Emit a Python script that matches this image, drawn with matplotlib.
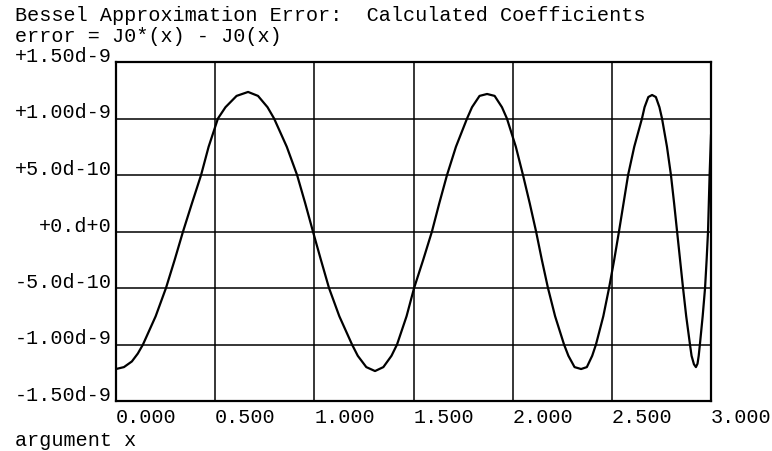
import matplotlib
matplotlib.use("Agg")
import matplotlib.pyplot as plt
import numpy as np

# error curve, y in units of 1e-9
arg_x = [0.000, 0.040, 0.080, 0.110, 0.136, 0.200, 0.252, 0.296, 0.338, 0.383,
         0.429, 0.467, 0.514, 0.552, 0.608, 0.666, 0.716, 0.764, 0.797, 0.861,
         0.913, 0.954, 0.993, 1.033, 1.074, 1.126, 1.190, 1.219, 1.262, 1.306,
         1.348, 1.389, 1.417, 1.465, 1.503, 1.549, 1.593, 1.630, 1.669, 1.714,
         1.770, 1.795, 1.833, 1.871, 1.909, 1.946, 1.971, 2.016, 2.052, 2.086,
         2.118, 2.147, 2.178, 2.214, 2.259, 2.281, 2.312, 2.345, 2.374, 2.401,
         2.420, 2.457, 2.486, 2.512, 2.536, 2.559, 2.582, 2.613, 2.652, 2.665,
         2.684, 2.703, 2.722, 2.740, 2.753, 2.778, 2.798, 2.814, 2.829, 2.844,
         2.859, 2.875, 2.894, 2.902, 2.914, 2.924, 2.932, 2.938, 2.944, 2.958,
         2.970, 2.978, 2.985, 2.993, 3.000]
err_e9 = [-1.217, -1.200, -1.150, -1.080, -1.000, -0.750, -0.500, -0.250, 0.000, 0.250,
          0.500, 0.750, 1.000, 1.100, 1.200, 1.235, 1.200, 1.100, 1.000, 0.750,
          0.500, 0.250, 0.000, -0.250, -0.500, -0.750, -1.000, -1.100, -1.200, -1.235,
          -1.200, -1.100, -1.000, -0.750, -0.500, -0.250, 0.000, 0.250, 0.500, 0.750,
          1.000, 1.100, 1.200, 1.217, 1.200, 1.100, 1.000, 0.750, 0.500, 0.250,
          0.000, -0.250, -0.500, -0.750, -1.000, -1.100, -1.200, -1.217, -1.200, -1.100,
          -1.000, -0.750, -0.500, -0.250, 0.000, 0.250, 0.500, 0.750, 1.000, 1.100,
          1.190, 1.208, 1.190, 1.100, 1.000, 0.750, 0.500, 0.250, 0.000, -0.250,
          -0.500, -0.750, -1.000, -1.100, -1.175, -1.200, -1.170, -1.100, -1.000, -0.750,
          -0.500, -0.250, 0.000, 0.500, 0.850]

x_ticks = [0.0, 0.5, 1.0, 1.5, 2.0, 2.5, 3.0]
x_labels = ["0.000", "0.500", "1.000", "1.500", "2.000", "2.500", "3.000"]
y_ticks = [1.5e-9, 1.0e-9, 5.0e-10, 0.0, -5.0e-10, -1.0e-9, -1.5e-9]
y_labels = ["+1.50d-9", "+1.00d-9", "+5.0d-10", "+0.d+0", "-5.0d-10", "-1.00d-9", "-1.50d-9"]

title1 = "Bessel Approximation Error:  Calculated Coefficients"
title2 = "error = J0*(x) - J0(x)"
xlab = "argument x"

plt.rcParams['font.family'] = ['Liberation Mono', 'DejaVu Sans Mono']
fs = 14.5

fig = plt.figure(figsize=(7.72, 4.51), dpi=100)
ax = fig.add_axes([116 / 772, 1 - 401 / 451, 595 / 772, 339 / 451])

ax.plot(arg_x, np.array(err_e9) * 1e-9, color="black", lw=1.6)

ax.set_xlim(0, 3.0)
ax.set_ylim(-1.5e-9, 1.5e-9)
ax.set_xticks(x_ticks)
ax.set_xticklabels(x_labels, fontsize=fs, ha="left")
ax.set_yticks(y_ticks)
ax.set_yticklabels(y_labels, fontsize=fs)
for lab in ax.get_yticklabels():
    lab.set_va("baseline")
ax.tick_params(axis="x", length=0, pad=5)
ax.tick_params(axis="y", length=0, pad=3)
ax.grid(True, color="black", lw=1.1)
for s in ax.spines.values():
    s.set_linewidth(1.6)

fig.text(15 / 772, 1 - 21 / 451, title1, fontsize=fs, va="baseline")
fig.text(15 / 772, 1 - 42 / 451, title2, fontsize=fs, va="baseline")
fig.text(15 / 772, 1 - 446 / 451, xlab, fontsize=fs, va="baseline")

fig.savefig("out.png", dpi=100)
